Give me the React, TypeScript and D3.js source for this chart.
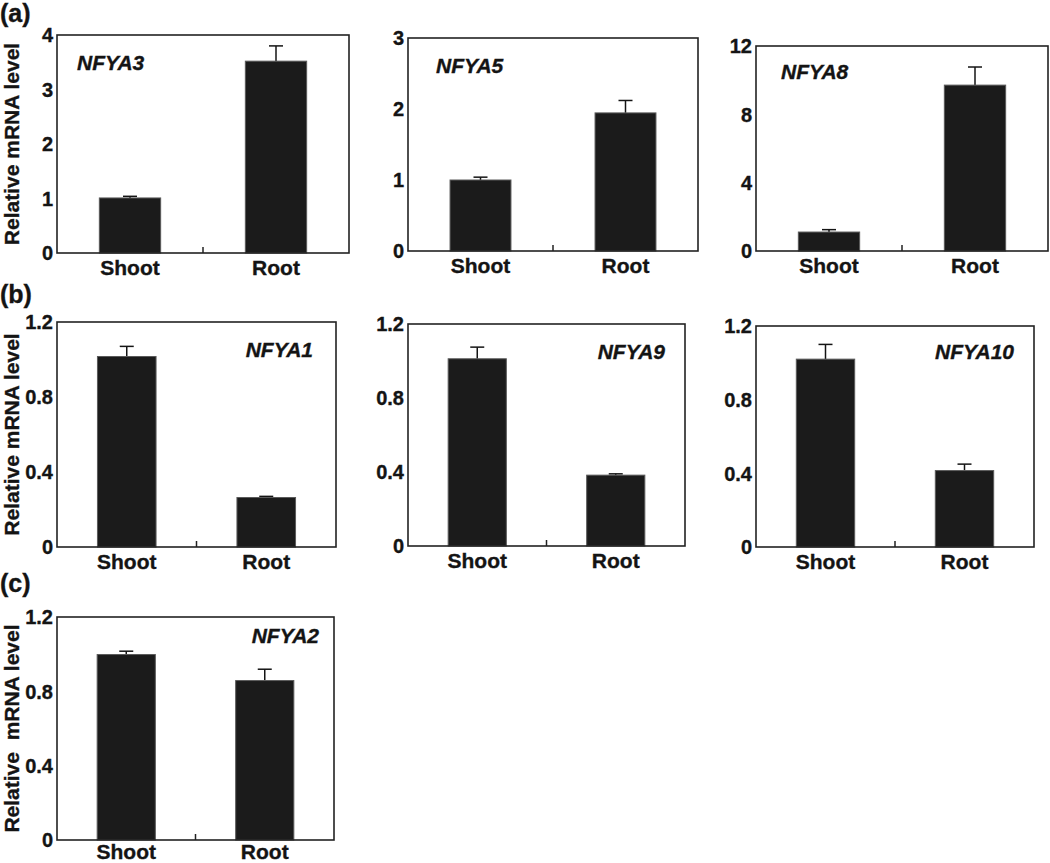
import React from "react";
import * as d3 from "d3";

// ---- data ----
const categories = ["Shoot", "Root"];
const geneNames = ["NFYA3", "NFYA5", "NFYA8", "NFYA1", "NFYA9", "NFYA10", "NFYA2"];
const shootValues = [1.01, 1.0, 1.11, 1.016, 1.012, 1.02, 0.998];
const rootValues = [3.52, 1.945, 9.71, 0.264, 0.383, 0.415, 0.858];
const shootErrors = [0.03, 0.04, 0.14, 0.054, 0.063, 0.08, 0.018];
const rootErrors = [0.28, 0.175, 1.06, 0.006, 0.007, 0.035, 0.061];
const yMaxes = [4, 3, 12, 1.2, 1.2, 1.2, 1.2];
const yTickValues = [
  [0, 1, 2, 3, 4],
  [0, 1, 2, 3],
  [0, 4, 8, 12],
  [0, 0.4, 0.8, 1.2],
  [0, 0.4, 0.8, 1.2],
  [0, 0.4, 0.8, 1.2],
  [0, 0.4, 0.8, 1.2],
];
const yTickLabels = [
  ["0", "1", "2", "3", "4"],
  ["0", "1", "2", "3"],
  ["0", "4", "8", "12"],
  ["0", "0.4", "0.8", "1.2"],
  ["0", "0.4", "0.8", "1.2"],
  ["0", "0.4", "0.8", "1.2"],
  ["0", "0.4", "0.8", "1.2"],
];
const yTitles = [
  "Relative mRNA level", "", "",
  "Relative mRNA level", "", "",
  "Relative  mRNA level",
];
const sectionLabels = ["(a)", "(b)", "(c)"];

// ---- layout (pixel boxes) ----
const layout = [
  { l: 57, t: 35, r: 349, b: 253, gx: 20, gy: 35, anchor: "start", cy: 22 },
  { l: 408, t: 38, r: 698, b: 251, gx: 28, gy: 35, anchor: "start", cy: 22 },
  { l: 756, t: 46, r: 1048, b: 251, gx: 25, gy: 33, anchor: "start", cy: 22 },
  { l: 57, t: 322, r: 336, b: 547, gx: -23, gy: 35, anchor: "end", cy: 22 },
  { l: 408, t: 324, r: 685, b: 546, gx: -20, gy: 35, anchor: "end", cy: 22 },
  { l: 756, t: 326, r: 1034, b: 547, gx: -20, gy: 33, anchor: "end", cy: 22 },
  { l: 57, t: 617, r: 334, b: 840, gx: -15, gy: 26, anchor: "end", cy: 19 },
];
const sectionPos = [
  { x: 0, y: 22 },
  { x: 0, y: 303 },
  { x: 0, y: 592 },
];

const FONT = "'Liberation Sans', Arial, Helvetica, sans-serif";
const INK = "#141414";
const textStyle = { stroke: INK, strokeWidth: 0.35 } as const;

function Panel({ i }: { i: number }) {
  const L = layout[i];
  const W = L.r - L.l;
  const H = L.b - L.t;
  const x = d3.scaleBand<string>().domain(categories).range([0, W]).paddingInner(0.58).paddingOuter(0.29);
  const y = d3.scaleLinear().domain([0, yMaxes[i]]).range([H, 0]);
  const vals = [shootValues[i], rootValues[i]];
  const errs = [shootErrors[i], rootErrors[i]];
  const bw = x.bandwidth();
  const capW = 14;
  return (
    <g transform={`translate(${L.l},${L.t})`}>
      {categories.map((c, k) => {
        const cx = (x(c) as number) + bw / 2;
        return (
          <g key={c}>
            <line x1={cx} x2={cx} y1={y(vals[k])} y2={y(vals[k] + errs[k])} stroke={INK} strokeWidth={1.5} />
            <line x1={cx - capW / 2} x2={cx + capW / 2} y1={y(vals[k] + errs[k])} y2={y(vals[k] + errs[k])} stroke={INK} strokeWidth={1.5} />
            <rect x={x(c)} y={y(vals[k])} width={bw} height={H - y(vals[k])} fill="#1b1b1b" stroke="#5a5a5a" strokeWidth={1} />
            <text x={cx} y={H + L.cy} textAnchor="middle" fontFamily={FONT} fontWeight="bold" fontSize={21} fill={INK} style={textStyle}>{c}</text>
          </g>
        );
      })}
      <rect x={0} y={0} width={W} height={H} fill="none" stroke="#222" strokeWidth={1.6} />
      <line x1={W / 2} x2={W / 2} y1={H} y2={H - 6} stroke="#222" strokeWidth={1.5} />
      {yTickValues[i].map((v, k) => (
        <text key={k} x={-4} y={y(v)} dy="0.36em" textAnchor="end" fontFamily={FONT} fontWeight="bold" fontSize={20} fill={INK} style={textStyle}>{yTickLabels[i][k]}</text>
      ))}
      <text
        x={L.anchor === "start" ? L.gx : W + L.gx}
        y={L.gy}
        textAnchor={L.anchor}
        fontFamily={FONT}
        fontWeight="bold"
        fontStyle="italic"
        fontSize={21}
        fill={INK}
        style={textStyle}
      >{geneNames[i]}</text>
      {yTitles[i] && (
        <text
          transform={`translate(${-L.l + 19},${H / 2}) rotate(-90)`}
          textAnchor="middle"
          fontFamily={FONT}
          fontWeight="bold"
          fontSize={21}
          fill={INK}
          style={{ ...textStyle, whiteSpace: "pre" }}
        >{yTitles[i]}</text>
      )}
    </g>
  );
}

export default function App() {
  return (
    <svg width={1050} height={863} style={{ position: "absolute", left: 0, top: 0, background: "#fff" }}>
      <rect width={1050} height={863} fill="#fff" />
      {sectionLabels.map((s, k) => (
        <text key={s} x={sectionPos[k].x} y={sectionPos[k].y} fontFamily={FONT} fontWeight="bold" fontSize={25} fill={INK} style={textStyle}>{s}</text>
      ))}
      {geneNames.map((g, i) => <Panel key={g} i={i} />)}
    </svg>
  );
}
